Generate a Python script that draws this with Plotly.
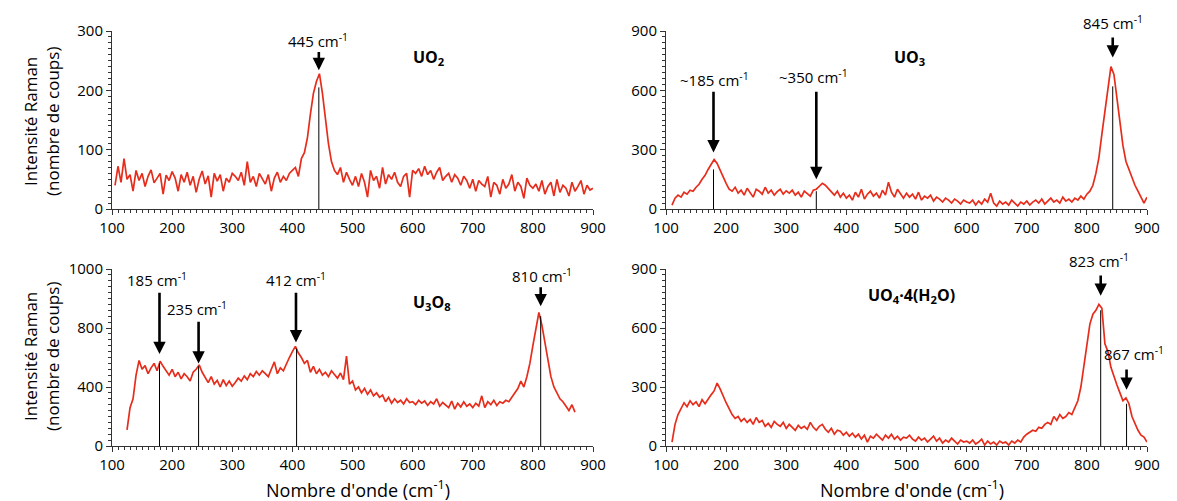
import plotly.graph_objects as go

# ---------------- data ----------------
# UO2 spectrum, x = 105..900 step 5
uo2_x = list(range(105, 905, 5))
uo2_y = [40, 72, 45, 85, 50, 58, 30, 65, 48, 60,
         38, 55, 66, 44, 52, 60, 25, 57, 48, 63,
         52, 30, 58, 45, 62, 40, 55, 28, 50, 64,
         42, 56, 20, 60, 47, 58, 30, 52, 45, 60,
         55, 48, 62, 40, 80, 45, 55, 38, 60, 50,
         42, 58, 30, 52, 62, 45, 55, 48, 60, 65,
         70, 55, 85, 95, 120, 160, 195, 215, 228, 195,
         150, 110, 80, 65, 58, 70, 45, 62, 50, 40,
         55, 38, 60, 45, 20, 65, 48, 55, 35, 70,
         42, 58, 50, 62, 45, 38, 55, 60, 20, 65,
         60, 68, 55, 72, 58, 65, 50, 62, 70, 48,
         55, 60, 45, 58, 52, 40, 55, 48, 35, 50,
         30, 48, 42, 38, 55, 20, 45, 40, 25, 50,
         35, 42, 58, 30, 45, 38, 18, 52, 40, 35,
         42, 30, 48, 25, 38, 45, 22, 50, 28, 40,
         35, 22, 45, 30, 38, 48, 25, 40, 32, 35]

# UO3 spectrum, x = 110..900 step 5
uo3_x = list(range(110, 905, 5))
uo3_y = [20, 55, 70, 60, 85, 75, 95, 90, 110, 125,
         150, 170, 200, 225, 250, 230, 195, 160, 130, 100,
         90, 110, 80, 95, 70, 105, 85, 60, 100, 90,
         75, 110, 80, 95, 70, 88, 100, 75, 92, 80,
         95, 70, 85, 60, 90, 75, 65, 95, 100, 115,
         130, 120, 105, 85, 70, 90, 60, 80, 55, 70,
         45, 85, 60, 100, 50, 75, 90, 65, 80, 55,
         95, 70, 135, 85, 60, 100, 75, 55, 80, 60,
         75, 50, 85, 45, 65, 55, 70, 40, 60, 50,
         35, 55, 45, 30, 50, 40, 25, 45, 35, 30,
         45, 20, 40, 25, 50, 35, 80, 30, 15, 40,
         25, 35, 20, 45, 30, 15, 35, 25, 40, 20,
         35, 45, 30, 50, 25, 40, 55, 35, 45, 30,
         60, 40, 50, 35, 55, 45, 65, 50, 75, 90,
         120, 180, 260, 380, 500, 600, 720, 680, 560, 420,
         320, 240, 200, 150, 120, 90, 60, 30, 60]

# U3O8 spectrum, x = 125..870 step 5
u3o8_x = list(range(125, 875, 5))
u3o8_y = [110, 260, 320, 480, 580, 520, 545, 490, 530, 560,
          510, 575, 540, 510, 480, 520, 470, 500, 455, 490,
          470, 440, 500, 520, 550, 500, 460, 430, 470, 420,
          445, 400, 450, 410, 440, 405, 430, 460, 440, 475,
          450, 490, 470, 505, 480, 510, 490, 470, 520, 570,
          490, 530, 510, 560, 600, 640, 675, 630, 600, 560,
          580, 500, 540, 490, 520, 480, 500, 470, 510, 485,
          460, 495, 450, 610, 420, 440, 380, 400, 360, 390,
          350, 380, 340, 360, 330, 345, 300, 330, 290, 320,
          295, 310, 285, 320, 295, 300, 280, 310, 290, 305,
          275, 300, 285, 320, 270, 295, 280, 260, 305, 250,
          290, 265, 300, 270, 285, 260, 290, 270, 340, 260,
          300, 280, 310, 275, 300, 290, 310, 300, 330, 360,
          390, 440, 400, 470, 560, 680, 800, 905, 820, 700,
          560, 470, 400, 360, 320, 300, 270, 240, 280, 230]

# UO4.4(H2O) spectrum, x = 110..900 step 5
uo4_x = list(range(110, 905, 5))
uo4_y = [20, 110, 160, 190, 220, 200, 230, 210, 225, 200,
         235, 215, 240, 260, 280, 320, 290, 250, 220, 190,
         160, 140, 150, 125, 140, 120, 135, 110, 145, 120,
         130, 100, 115, 95, 125, 110, 100, 120, 90, 110,
         95, 80, 105, 90, 100, 85, 120, 95, 80, 100,
         110, 85, 70, 90, 60, 80, 75, 55, 70, 50,
         65, 45, 60, 35, 55, 20, 50, 40, 60, 45,
         30, 55, 40, 60, 35, 50, 30, 45, 40, 55,
         35, 25, 45, 30, 40, 20, 35, 50, 25, 40,
         15, 30, 20, 40, 25, 10, 30, 20, 25, 15,
         30, 10, 20, 35, 5, 25, 10, 20, 5, 25,
         15, 20, 5, 25, 15, 30, 20, 45, 60, 70,
         80, 75, 95, 90, 110, 120, 110, 150, 130, 160,
         140, 150, 170, 160, 200, 230, 300, 400, 520, 620,
         670, 690, 720, 700, 520, 480, 400, 350, 310, 270,
         230, 245, 215, 150, 110, 80, 55, 45, 20]

# peak marker lines (position, height) per panel
uo2_peaks_x = [444]
uo2_peaks_h = [205]
uo3_peaks_x = [179, 350, 843]
uo3_peaks_h = [200, 90, 620]
u3o8_peaks_x = [179, 244, 407, 813]
u3o8_peaks_h = [560, 540, 660, 880]
uo4_peaks_x = [823, 866]
uo4_peaks_h = [690, 215]

# arrow annotations: label, label x, label y, arrow x, tail y, tip y
uo2_arrows = [("445 cm<sup>-1</sup>", 442, 284, 444, 267, 234)]
uo3_arrows = [("845 cm<sup>-1</sup>", 844, 943, 843, 875, 766),
              ("~185 cm<sup>-1</sup>", 180, 656, 179, 601, 286),
              ("~350 cm<sup>-1</sup>", 345, 668, 350, 601, 151)]
u3o8_arrows = [("185 cm<sup>-1</sup>", 175, 1126, 179, 1049, 623),
               ("235 cm<sup>-1</sup>", 242, 929, 244, 853, 559),
               ("412 cm<sup>-1</sup>", 406, 1126, 406, 1049, 702),
               ("810 cm<sup>-1</sup>", 815, 1154, 813, 1087, 947)]
uo4_arrows = [("823 cm<sup>-1</sup>", 820, 945, 823, 874, 764),
              ("867 cm<sup>-1</sup>", 878, 471, 866, 397, 286)]

titles = [("<b>UO<sub>2</sub></b>", 627, 255),
          ("<b>UO<sub>3</sub></b>", 505, 766),
          ("<b>U<sub>3</sub>O<sub>8</sub></b>", 632, 973),
          ("<b>UO<sub>4</sub>·4(H<sub>2</sub>O)</b>", 508, 763)]

# axis ranges / ticks (the U3O8 panel's top tick is labelled "1000" in the source)
y_ranges = [[0, 300], [0, 900], [0, 1200], [0, 900]]
y_ticks = [[0, 100, 200, 300], [0, 300, 600, 900], [0, 400, 800, 1200], [0, 300, 600, 900]]
y_ticktext = [["0", "100", "200", "300"], ["0", "300", "600", "900"],
              ["0", "400", "800", "1000"], ["0", "300", "600", "900"]]
y_minor = [10, 30, 40, 30]
x_ticks = [100, 200, 300, 400, 500, 600, 700, 800, 900]

# ---------------- figure ----------------
W, H = 1177, 501
FONT = "Open Sans, Liberation Sans, Arial, sans-serif"
RED = "rgb(230,45,28)"

xdom_left = [112 / W, 593 / W]
xdom_right = [666 / W, 1147 / W]
ydom_top = [1 - 209 / H, 1 - 31 / H]
ydom_bot = [1 - 446 / H, 1 - 269 / H]
doms = [(xdom_left, ydom_top), (xdom_right, ydom_top), (xdom_left, ydom_bot), (xdom_right, ydom_bot)]

fig = go.Figure()
spectra = [(uo2_x, uo2_y), (uo3_x, uo3_y), (u3o8_x, u3o8_y), (uo4_x, uo4_y)]
peaks = [(uo2_peaks_x, uo2_peaks_h), (uo3_peaks_x, uo3_peaks_h),
         (u3o8_peaks_x, u3o8_peaks_h), (uo4_peaks_x, uo4_peaks_h)]
arrows = [uo2_arrows, uo3_arrows, u3o8_arrows, uo4_arrows]

annotations = []
for i in range(4):
    xa = "x" if i == 0 else f"x{i+1}"
    ya = "y" if i == 0 else f"y{i+1}"
    ymax = y_ranges[i][1]
    sx, sy = spectra[i]
    fig.add_trace(go.Scatter(x=sx, y=sy, mode="lines", xaxis=xa, yaxis=ya,
                             line=dict(color=RED, width=1.7), showlegend=False))
    px_, ph_ = peaks[i]
    for p, h in zip(px_, ph_):
        fig.add_trace(go.Scatter(x=[p, p], y=[0, h], mode="lines", xaxis=xa, yaxis=ya,
                                 line=dict(color="black", width=1), showlegend=False))
    for (lab, lx, ly, axx, ty, tip) in arrows[i]:
        annotations.append(dict(x=axx, y=tip, ax=axx, ay=ty, xref=xa, yref=ya,
                                axref=xa, ayref=ya, text="", showarrow=True,
                                arrowhead=2, arrowsize=0.95, arrowwidth=2.6,
                                arrowcolor="black"))
        annotations.append(dict(x=lx, y=ly / ymax, xref=xa, yref=f"{ya} domain",
                                xanchor="center", yanchor="middle",
                                text=lab, showarrow=False,
                                font=dict(family=FONT, size=15, color="black")))
    t, tx, ty_ = titles[i]
    annotations.append(dict(x=tx, y=ty_ / ymax, xref=xa, yref=f"{ya} domain", text=t,
                            xanchor="center", yanchor="middle",
                            showarrow=False, font=dict(family=FONT, size=16, color="black")))

    xd, yd = doms[i]
    axis_common = dict(showline=True, linecolor="#333", linewidth=1, ticks="outside",
                       ticklen=5, tickcolor="#333", showgrid=False, zeroline=False,
                       automargin=False,
                       tickfont=dict(family=FONT, size=15, color="black"))
    key = "" if i == 0 else str(i + 1)
    fig.update_layout(**{
        f"xaxis{key}": dict(domain=xd, anchor=ya, range=[100, 900], tickvals=x_ticks,
                            minor=dict(ticks="outside", dtick=10, ticklen=3, tickcolor="#333"),
                            **axis_common),
        f"yaxis{key}": dict(domain=yd, anchor=xa, range=y_ranges[i], tickvals=y_ticks[i],
                            ticktext=y_ticktext[i],
                            minor=dict(ticks="outside", dtick=y_minor[i], ticklen=3, tickcolor="#333"),
                            **axis_common),
    })

# axis titles
ytitle = "Intensité Raman<br>(nombre de coups)"
for yc in [1 - 122 / H, 1 - 357 / H]:
    annotations.append(dict(x=41 / W, y=yc, xref="paper", yref="paper", text=ytitle,
                            xanchor="center", yanchor="middle",
                            textangle=-90, showarrow=False,
                            font=dict(family=FONT, size=17, color="black")))
xtitle = "Nombre d'onde (cm<sup>-1</sup>)"
for xc in [358 / W, 912 / W]:
    annotations.append(dict(x=xc, y=1 - 489 / H, xref="paper", yref="paper", text=xtitle,
                            xanchor="center", yanchor="middle",
                            showarrow=False, font=dict(family=FONT, size=18, color="black")))

fig.update_layout(width=W, height=H,
                  margin=dict(l=0, r=0, t=0, b=0, pad=0, autoexpand=False),
                  plot_bgcolor="white", paper_bgcolor="white",
                  annotations=annotations, showlegend=False)

fig.write_html("out.html", config={"displayModeBar": False},
               post_script="document.body.style.margin='0';document.body.style.padding='0';")
